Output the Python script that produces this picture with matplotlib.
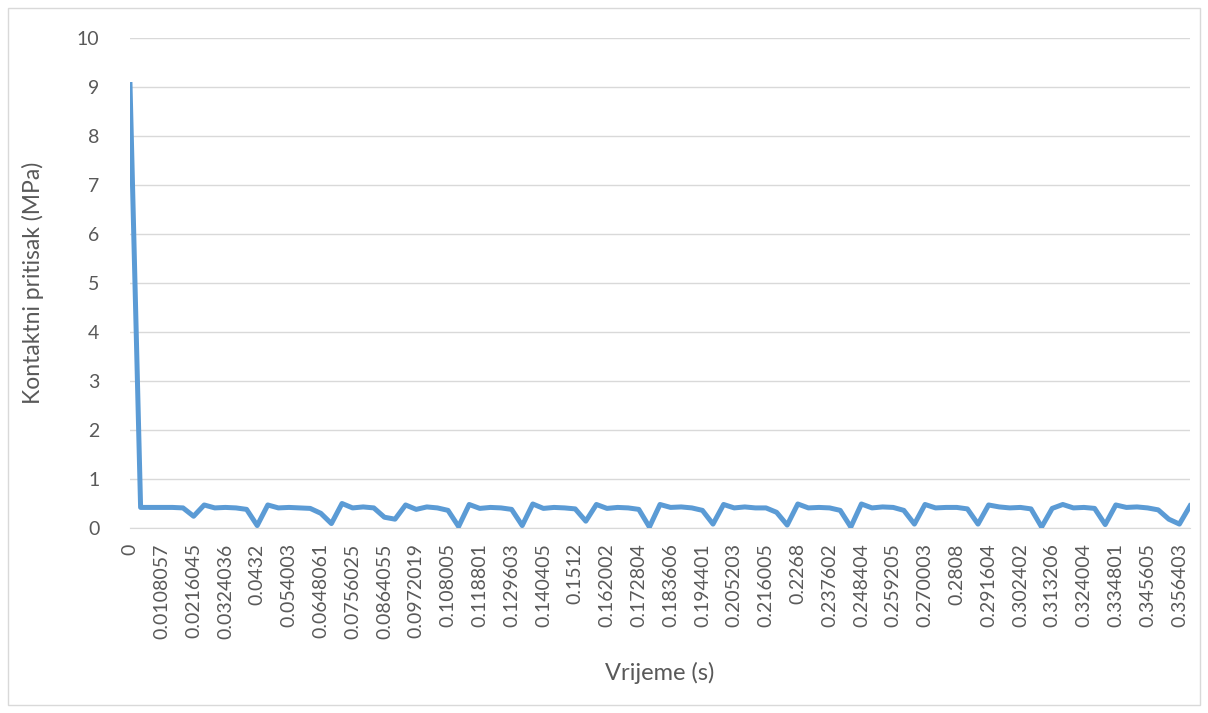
import matplotlib
matplotlib.use("Agg")
import matplotlib.pyplot as plt
from matplotlib.patches import Rectangle

# tick labels shown on the category axis (every 3rd sample)
time_labels = ['0', '0.0108057', '0.0216045', '0.0324036', '0.0432', '0.054003',
               '0.0648061', '0.0756025', '0.0864055', '0.0972019', '0.108005',
               '0.118801', '0.129603', '0.140405', '0.1512', '0.162002', '0.172804',
               '0.183606', '0.194401', '0.205203', '0.216005', '0.2268', '0.237602',
               '0.248404', '0.259205', '0.270003', '0.2808', '0.291604', '0.302402',
               '0.313206', '0.324004', '0.334801', '0.345605', '0.356403']
label_step = 3

# contact pressure (MPa), one value per sample
pressure = [9.05, 0.42, 0.42, 0.42, 0.42, 0.41, 0.24, 0.47, 0.41, 0.42,
            0.41, 0.38, 0.05, 0.47, 0.41, 0.42, 0.41, 0.40, 0.30, 0.09,
            0.50, 0.41, 0.43, 0.41, 0.22, 0.18, 0.47, 0.38, 0.43, 0.41,
            0.36, 0.03, 0.48, 0.40, 0.42, 0.41, 0.38, 0.05, 0.49, 0.40,
            0.42, 0.41, 0.39, 0.14, 0.48, 0.40, 0.42, 0.41, 0.38, 0.02,
            0.48, 0.42, 0.43, 0.41, 0.36, 0.08, 0.48, 0.41, 0.43, 0.41,
            0.41, 0.32, 0.06, 0.49, 0.41, 0.42, 0.41, 0.36, 0.02, 0.49,
            0.41, 0.43, 0.42, 0.36, 0.08, 0.48, 0.41, 0.42, 0.42, 0.39,
            0.08, 0.47, 0.43, 0.41, 0.42, 0.39, 0.02, 0.40, 0.48, 0.41,
            0.42, 0.40, 0.07, 0.47, 0.42, 0.43, 0.41, 0.37, 0.18, 0.08,
            0.45]

txt = '#595959'
plt.rcParams['font.family'] = ['Lato', 'DejaVu Sans']

fig = plt.figure(figsize=(12.08, 7.13), dpi=100)
ax = fig.add_axes([130 / 1208, 1 - 528 / 713, 1060 / 1208, 490 / 713])

x = list(range(len(pressure)))
ax.plot(x, pressure, color='#5B9BD5', lw=3.6, solid_joinstyle='round', zorder=3)

ax.set_xlim(0, len(pressure) - 1)
ax.set_ylim(0, 10)
ax.set_yticks(range(0, 11))
ax.set_xticks(range(0, len(pressure), label_step))
ax.set_xticklabels(time_labels, rotation=90, ha='center', va='top')

ax.grid(axis='y', color='#D9D9D9', lw=1)
ax.set_axisbelow(True)
for s in ['top', 'right', 'left']:
    ax.spines[s].set_visible(False)
ax.spines['bottom'].set_color('#D9D9D9')
ax.tick_params(axis='both', length=0, labelsize=14, colors=txt)
ax.tick_params(axis='x', pad=11)
ax.tick_params(axis='y', pad=22)

ax.set_xlabel('Vrijeme (s)', fontsize=17, color=txt, va='center')
ax.set_ylabel('Kontaktni pritisak (MPa)', fontsize=16.5, color=txt, va='center')
ax.xaxis.set_label_coords(0.5, (528 - 673) / 490)
ax.yaxis.set_label_coords((33 - 130) / 1060, 0.5)

# chart area frame
fig.patches.append(Rectangle((8 / 1208, 8 / 713), 1192 / 1208, 697 / 713,
                             transform=fig.transFigure, fill=False,
                             edgecolor='#D9D9D9', lw=1))

fig.savefig('out.png', dpi=100)
